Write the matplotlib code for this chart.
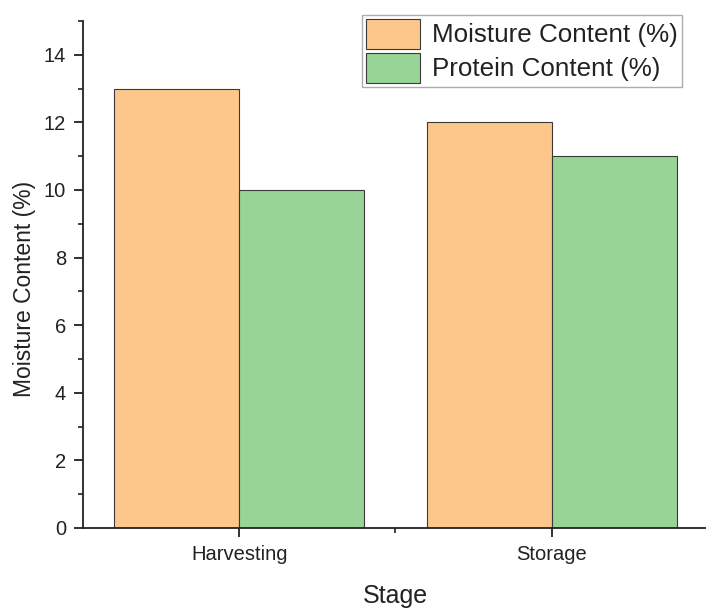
import matplotlib
matplotlib.use("Agg")
import matplotlib.pyplot as plt
import numpy as np
from matplotlib.ticker import MultipleLocator, FixedLocator

plt.rcParams['font.family'] = ['Liberation Sans', 'DejaVu Sans']

stages = ['Harvesting', 'Storage']
moisture = [13, 12]
protein = [10, 11]

x = np.arange(len(stages))
w = 0.4

fig = plt.figure(figsize=(7.06, 6.08), dpi=100)
ax = fig.add_axes([0.1176, 0.1316, 0.885, 0.834])

ax.bar(x - w / 2, moisture, w, color='#FDC78C', edgecolor='#3a3a3a', linewidth=0.8,
       label='Moisture Content (%)')
ax.bar(x + w / 2, protein, w, color='#98D496', edgecolor='#3a3a3a', linewidth=0.8,
       label='Protein Content (%)')

ax.set_xlim(-0.5, 1.5)
ax.set_ylim(0, 15)
ax.set_xticks(x)
ax.set_xticklabels(stages)
ax.xaxis.set_minor_locator(FixedLocator([0.5]))
ax.set_yticks(np.arange(0, 15, 2))
ax.yaxis.set_minor_locator(MultipleLocator(1))

for s in ['top', 'right']:
    ax.spines[s].set_visible(False)
for s in ['left', 'bottom']:
    ax.spines[s].set_linewidth(1.3)
    ax.spines[s].set_color('#222222')

ax.tick_params(which='major', direction='out', length=6.8, width=1.3, labelsize=14.5,
               colors='#222222', pad=5.5)
ax.tick_params(which='minor', direction='out', length=3.5, width=1.2, colors='#222222')

ax.set_xlabel('Stage', fontsize=18, labelpad=14, color='#222222')
ax.set_ylabel('Moisture Content (%)', fontsize=16.5, color='#222222')
ax.yaxis.set_label_coords(-0.076, 0.471)

leg = ax.legend(loc='upper right', bbox_to_anchor=(0.958, 1.012), fontsize=18.7, frameon=True,
                fancybox=False, edgecolor='#999999', handlelength=2.1, handleheight=1.4,
                labelspacing=0.15, handletextpad=0.45, borderpad=0.15, borderaxespad=0)
leg.get_frame().set_linewidth(1.0)
for t in leg.get_texts():
    t.set_color('#222222')

fig.savefig('out.png', dpi=100)
